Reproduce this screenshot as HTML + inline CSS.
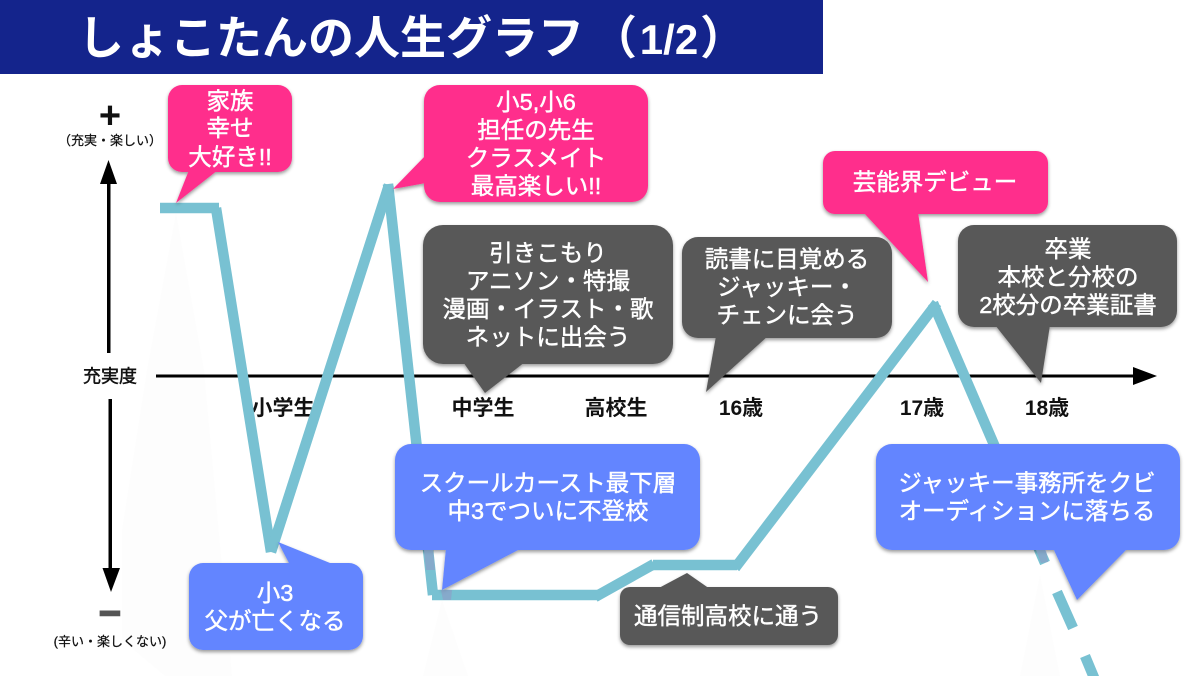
<!DOCTYPE html>
<html lang="ja">
<head>
<meta charset="utf-8">
<title>しょこたんの人生グラフ（1/2）</title>
<style>
html,body{margin:0;padding:0;background:#fff;width:1200px;height:676px;overflow:hidden}
svg{display:block}
text{font-family:"Liberation Sans","Noto Sans CJK JP",sans-serif}
.w{fill:#fff;stroke:#fff;stroke-width:.45px;font-size:23.500px;text-anchor:middle}
.l{fill:#111;font-size:21px;font-weight:700;text-anchor:middle}
.s{fill:#111;stroke:#111;stroke-width:.25px;font-size:13px;text-anchor:middle}
.p{fill:#FF2E8C}.b{fill:#6385FF}.g{fill:#595959}
</style>
</head>
<body>
<svg width="1200" height="676" viewBox="0 0 1200 676" xmlns="http://www.w3.org/2000/svg">
<defs>
<filter id="sh" x="-10%" y="-10%" width="120%" height="125%">
<feDropShadow dx="0" dy="2" stdDeviation="1.8" flood-color="#000" flood-opacity="0.4"/>
</filter>
</defs>
<rect width="1200" height="676" fill="#fff"/>

<!-- faint reflections -->
<g fill="#fdfdfd">
<polygon points="176,213 204,370 232,676 165,676 122,640 122,530 147,370"/>
<polygon points="442,600 468,676 423,676"/>
<polygon points="1040,575 1060,676 1020,676"/>
</g>

<!-- title -->
<rect x="0" y="0" width="823" height="74" fill="#14248C"/>
<text x="78" y="54" font-size="46" font-weight="700" fill="#fff">しょこたんの人生グラフ</text>
<text x="591" y="54" font-size="46" font-weight="700" fill="#fff">（</text>
<text x="669" y="54" font-size="42" font-weight="700" fill="#fff" text-anchor="middle">1/2</text>
<text x="700" y="54" font-size="46" font-weight="700" fill="#fff">）</text>

<!-- axes -->
<rect x="156" y="374.500" width="980" height="3" fill="#000"/>
<polygon points="1133,367 1157,376 1133,385" fill="#000"/>
<rect x="107" y="182" width="3.500" height="171" fill="#000"/>
<polygon points="108.500,160 117,184 100,184" fill="#000"/>
<rect x="108.500" y="399" width="3.500" height="171" fill="#000"/>
<polygon points="111,592 102.500,568 120,568" fill="#000"/>

<text x="110" y="128" font-size="38" font-weight="700" text-anchor="middle" fill="#111" style="font-family:'Liberation Sans',sans-serif">+</text>
<text x="110" y="145" class="s">（充実・楽しい）</text>
<text x="110" y="382.500" font-size="18" text-anchor="middle" fill="#111" stroke="#111" stroke-width=".5">充実度</text>
<text x="110" y="626" font-size="38" font-weight="700" text-anchor="middle" fill="#555" stroke="#555" stroke-width="1.600" style="font-family:'Liberation Sans',sans-serif">−</text>
<text x="110" y="646" class="s">(辛い・楽しくない)</text>

<!-- axis labels -->
<text x="283" y="415" class="l">小学生</text>
<text x="483" y="415" class="l">中学生</text>
<text x="616" y="415" class="l">高校生</text>
<text x="741" y="415" class="l">16歳</text>
<text x="922" y="415" class="l">17歳</text>
<text x="1047" y="415" class="l">18歳</text>

<!-- graph line -->
<g stroke="#78C1D2" stroke-width="10.500" fill="none">
<line x1="160" y1="208" x2="219" y2="208"/>
<line x1="216" y1="208" x2="271" y2="552"/>
<line x1="271" y1="552" x2="389" y2="185"/>
<line x1="388" y1="184" x2="433" y2="595"/>
<line x1="432" y1="595" x2="599" y2="595"/>
<line x1="595" y1="597" x2="654" y2="564"/>
<line x1="653" y1="565" x2="737" y2="565"/>
<line x1="735" y1="568" x2="937" y2="303"/>
<line x1="933" y1="303" x2="1045" y2="563"/>
<line x1="1057" y1="592" x2="1073" y2="628"/>
<line x1="1085" y1="656" x2="1095" y2="680"/>
</g>

<!-- pink bubbles -->
<g filter="url(#sh)" class="p">
<rect x="168" y="85" width="124" height="87" rx="14"/>
<polygon points="189,170 218,170 176,203"/>
</g>
<g filter="url(#sh)" class="p">
<rect x="424" y="85" width="224" height="117" rx="16"/>
<polygon points="426,155 426,183 393,189"/>
</g>
<g filter="url(#sh)" class="p">
<rect x="823" y="151" width="225" height="63" rx="12"/>
<polygon points="863,212 918,212 928,282"/>
</g>

<!-- gray bubbles -->
<g filter="url(#sh)" class="g">
<rect x="423" y="225" width="250" height="139" rx="20"/>
<polygon points="463,362 525,362 485,393"/>
</g>
<g filter="url(#sh)" class="g">
<rect x="682" y="237" width="210" height="101" rx="16"/>
<polygon points="716,336 768,336 706,392"/>
</g>
<g filter="url(#sh)" class="g">
<rect x="958" y="225" width="219" height="102" rx="16"/>
<polygon points="995,325 1050,325 1041,383"/>
</g>
<g filter="url(#sh)" class="g">
<rect x="620" y="587" width="218" height="58" rx="10"/>
<polygon points="657,589 710,589 687,573"/>
</g>

<!-- blue bubbles -->
<g filter="url(#sh)" class="b">
<rect x="189" y="563" width="174" height="87" rx="14"/>
<polygon points="290,565 335,565 278,542"/>
</g>
<g filter="url(#sh)" class="b">
<rect x="395" y="444" width="305" height="106" rx="16"/>
<polygon points="446,548 522,548 442,590"/>
</g>
<g filter="url(#sh)" class="b">
<rect x="876" y="444" width="304" height="106" rx="16"/>
<polygon points="1053,548 1128,548 1077,600"/>
</g>

<!-- dithered overlaps -->
<polygon points="424,550 433,550 435,570 426,570" fill="#8C9FC8" opacity=".7"/>
<polygon points="441,590 452,590 451,600 443,600" fill="#8C9FC8" opacity=".7"/>
<polygon points="1036,550 1046,550 1048,562 1041,563" fill="#8C9FC8" opacity=".7"/>

<!-- bubble text -->
<text x="230" y="109" class="w">家族</text>
<text x="230" y="136" class="w">幸せ</text>
<text x="230" y="165" class="w">大好き!!</text>

<text x="536" y="110" class="w">小5,小6</text>
<text x="536" y="138" class="w">担任の先生</text>
<text x="536" y="166" class="w">クラスメイト</text>
<text x="536" y="194" class="w">最高楽しい!!</text>

<text x="935" y="190" class="w">芸能界デビュー</text>

<text x="548" y="261" class="w">引きこもり</text>
<text x="548" y="289" class="w">アニソン・特撮</text>
<text x="548" y="317" class="w">漫画・イラスト・歌</text>
<text x="548" y="345" class="w">ネットに出会う</text>

<text x="787" y="267" class="w">読書に目覚める</text>
<text x="787" y="295" class="w">ジャッキー・</text>
<text x="787" y="323" class="w">チェンに会う</text>

<text x="1068" y="257" class="w">卒業</text>
<text x="1068" y="285" class="w">本校と分校の</text>
<text x="1068" y="313" class="w">2校分の卒業証書</text>

<text x="275" y="601" class="w">小3</text>
<text x="275" y="629" class="w">父が亡くなる</text>

<text x="548" y="491" class="w">スクールカースト最下層</text>
<text x="548" y="519" class="w">中3でついに不登校</text>

<text x="1027" y="491" class="w">ジャッキー事務所をクビ</text>
<text x="1027" y="519" class="w">オーディションに落ちる</text>

<text x="728" y="624" class="w">通信制高校に通う</text>
</svg>
</body>
</html>
